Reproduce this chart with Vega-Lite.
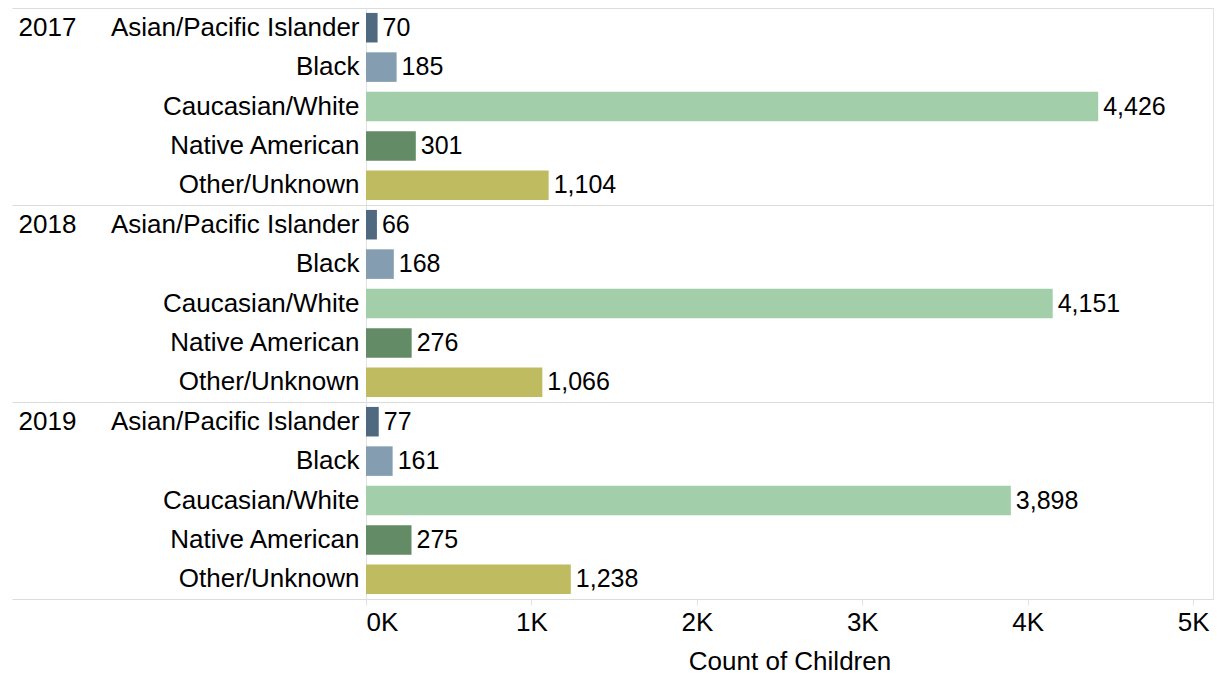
{
  "$schema": "https://vega.github.io/schema/vega-lite/v6.json",
  "width": 847,
  "height": 591,
  "autosize": {"type": "none"},
  "padding": {"left": 366, "top": 8, "right": 4, "bottom": 76},
  "config": {
    "font": "Liberation Sans",
    "view": {"stroke": "#e2e2e2", "strokeWidth": 1},
    "axis": {"labelFont": "Liberation Sans", "titleFont": "Liberation Sans", "labelColor": "#000", "titleColor": "#000", "titleFontWeight": "normal"}
  },
  "data": {
    "values": [
      {"year": "2017", "race": "Asian/Pacific Islander", "count": 70},
      {"year": "2017", "race": "Black", "count": 185},
      {"year": "2017", "race": "Caucasian/White", "count": 4426},
      {"year": "2017", "race": "Native American", "count": 301},
      {"year": "2017", "race": "Other/Unknown", "count": 1104},
      {"year": "2018", "race": "Asian/Pacific Islander", "count": 66},
      {"year": "2018", "race": "Black", "count": 168},
      {"year": "2018", "race": "Caucasian/White", "count": 4151},
      {"year": "2018", "race": "Native American", "count": 276},
      {"year": "2018", "race": "Other/Unknown", "count": 1066},
      {"year": "2019", "race": "Asian/Pacific Islander", "count": 77},
      {"year": "2019", "race": "Black", "count": 161},
      {"year": "2019", "race": "Caucasian/White", "count": 3898},
      {"year": "2019", "race": "Native American", "count": 275},
      {"year": "2019", "race": "Other/Unknown", "count": 1238}
    ]
  },
  "transform": [{"calculate": "datum.year + '|' + datum.race", "as": "key"}],
  "layer": [
    {
      "layer": [
        {
          "mark": {"type": "bar"},
          "encoding": {
            "y": {
              "field": "key", "type": "nominal", "sort": null,
              "scale": {"paddingInner": 0.25, "paddingOuter": 0.125},
              "axis": {
                "orient": "left", "title": null, "labelExpr": "split(datum.value, '|')[1]", "labelFontSize": 26,
                "ticks": false, "labelPadding": 7, "domain": false, "labelLimit": 400
              }
            },
            "x": {
              "field": "count", "type": "quantitative",
              "scale": {"domain": [0, 5120], "nice": false},
              "axis": {
                "title": "Count of Children", "titleFontSize": 26, "labelFontSize": 26,
                "values": [0, 1000, 2000, 3000, 4000, 5000],
                "labelExpr": "datum.value / 1000 + 'K'",
                "labelAlign": {"condition": {"test": "datum.value == 0", "value": "left"}, "value": "center"},
                "grid": false, "domain": false, "tickColor": "#e2e2e2", "tickSize": 6,
                "labelPadding": 4, "titlePadding": 13
              }
            },
            "color": {
              "field": "race", "type": "nominal", "legend": null,
              "scale": {
                "domain": ["Asian/Pacific Islander", "Black", "Caucasian/White", "Native American", "Other/Unknown"],
                "range": ["#4f6980", "#849db1", "#a2ceaa", "#638b66", "#bfbb60"]
              }
            }
          }
        },
        {
          "mark": {"type": "text", "align": "left", "baseline": "middle", "dx": 5, "fontSize": 25, "color": "#000"},
          "encoding": {
            "y": {
              "field": "key", "type": "nominal", "sort": null,
              "axis": {
                "orient": "left", "title": null,
                "labelExpr": "indexof(datum.value, 'Asian') >= 0 ? split(datum.value, '|')[0] : ''",
                "labelFontSize": 26, "labelAlign": "left", "ticks": false, "labelPadding": 348, "domain": false
              }
            },
            "x": {"field": "count", "type": "quantitative"},
            "text": {"field": "count", "type": "quantitative", "format": ",d"}
          }
        }
      ],
      "resolve": {"axis": {"y": "independent"}}
    },
    {
      "mark": {"type": "rule", "opacity": 0},
      "encoding": {
        "y": {
          "field": "key", "type": "nominal", "sort": null,
          "scale": {"paddingInner": 0, "paddingOuter": 0},
          "axis": {
            "orient": "left", "title": null, "labels": false, "domain": false,
            "tickBand": "extent", "tickSize": 354, "tickColor": "#dcdcdc",
            "tickOpacity": {"condition": {"test": "datum.extra || (datum.value && indexof(datum.value, 'Other') >= 0)", "value": 1}, "value": 0},
            "grid": true, "gridColor": "#dcdcdc",
            "gridOpacity": {"condition": {"test": "datum.extra || (datum.value && indexof(datum.value, 'Other') >= 0)", "value": 1}, "value": 0}
          }
        }
      }
    }
  ],
  "resolve": {"scale": {"y": "independent"}, "axis": {"y": "independent"}}
}
